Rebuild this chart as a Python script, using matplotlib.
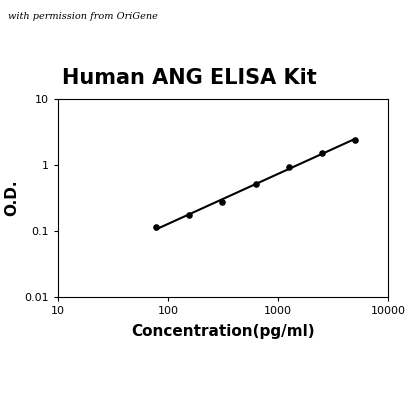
import numpy as np
import matplotlib
matplotlib.use("Agg")
import matplotlib.pyplot as plt

conc = [78.125, 156.25, 312.5, 625, 1250, 2500, 5000]
od = [0.115, 0.172, 0.272, 0.515, 0.93, 1.55, 2.39]
xticks = [10, 100, 1000, 10000]
yticks = [0.01, 0.1, 1, 10]

fig = plt.figure(figsize=(4.2, 4.2), dpi=100)
ax = fig.add_axes([0.138, 0.293, 0.786, 0.471])
ax.scatter(conc, od, s=14, color='black', zorder=3)
lx = np.log10(conc); ly = np.log10(od)
k, b = np.polyfit(lx, ly, 1)
xs = np.array([min(lx), max(lx)])
ax.plot(10**xs, 10**(k*xs + b), color='black', lw=1.5)
ax.set_xscale('log'); ax.set_yscale('log')
ax.set_xlim(10, 10000); ax.set_ylim(0.01, 10)
ax.set_xticks(xticks); ax.set_xticklabels([str(t) for t in xticks], fontsize=8)
ax.set_yticks(yticks); ax.set_yticklabels([str(t) for t in yticks], fontsize=8)
ax.minorticks_off()
ax.tick_params(length=3)
ax.set_xlabel('Concentration(pg/ml)', fontsize=11, fontweight='bold', labelpad=6)
ax.set_ylabel('O.D.', fontsize=11, fontweight='bold', labelpad=4)
fig.text(0.45, 0.8, 'Human ANG ELISA Kit', fontsize=15, fontweight='bold', ha='center')
fig.text(0.02, 0.955, 'with permission from OriGene', fontsize=7, style='italic', family='DejaVu Serif')
fig.savefig('out.png', dpi=100)
